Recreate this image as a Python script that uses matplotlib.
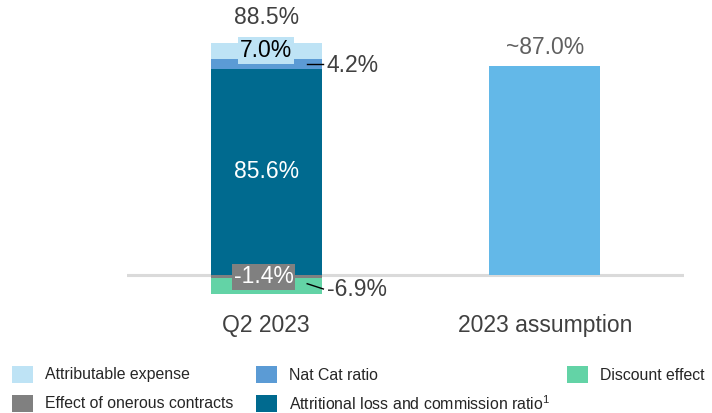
import matplotlib
matplotlib.use("Agg")
import matplotlib.pyplot as plt
from matplotlib.patches import Rectangle

plt.rcParams['font.family'] = ['Liberation Sans', 'DejaVu Sans']
plt.rcParams['mathtext.fontset'] = 'custom'
plt.rcParams['mathtext.rm'] = 'Liberation Sans'
plt.rcParams['mathtext.it'] = 'Liberation Sans'

# ---- data ----
categories = ["Q2 2023", "2023 assumption"]
attritional = 85.6
nat_cat = 4.2
attributable = 7.0
onerous = -1.4
discount = -6.9
total_q2 = 88.5
assumption = 87.0
assumption_label = "~87.0%"

legend_labels = ["Attributable expense", "Nat Cat ratio", "Discount effect",
                 "Effect of onerous contracts",
                 "Attritional loss and commission ratio$^{1}$"]

# ---- colours ----
c_attributable = "#BEE3F5"
c_natcat = "#5B9BD5"
c_attritional = "#006A8F"
c_discount = "#63D3A6"
c_onerous = "#808080"
c_assumption = "#63B8E8"
c_text = "#404040"

W, H = 712, 413
fig = plt.figure(figsize=(W / 100, H / 100), dpi=100)
ax = fig.add_axes([127 / W, (H - 310) / H, (684 - 127) / W, 310 / H])
ax.set_xlim(-0.5, 1.5)
ax.set_ylim(-(310 - 274.5) / 2.395, 274.5 / 2.395)

x0, x1 = 0, 1
bw = 0.40

ax.axhline(0, color="#DADADA", lw=2.2, zorder=0)

# Q2 2023 stacked bar
ax.bar(x0, attritional, bw, bottom=0, color=c_attritional, zorder=2)
ax.bar(x0, nat_cat, bw, bottom=attritional, color=c_natcat, zorder=2)
ax.bar(x0, attributable, bw, bottom=attritional + nat_cat, color=c_attributable, zorder=2)
ax.bar(x0, onerous, bw, bottom=0, color=c_onerous, zorder=2)
ax.bar(x0, discount, bw, bottom=onerous, color=c_discount, zorder=2)

# assumption bar
ax.bar(x1, assumption, bw, color=c_assumption, zorder=2)

fs = 16.5
top_stack = attritional + nat_cat + attributable
ax.text(x0, top_stack + 10.5, f"{total_q2:.1f}%", ha="center", va="center",
        fontsize=fs, color=c_text)
ax.text(x0, attritional + nat_cat + attributable / 2 + 0.3, f"{attributable:.1f}%",
        ha="center", va="center", fontsize=fs, color="black", zorder=4,
        bbox=dict(boxstyle="square,pad=0.08", fc=c_attributable, ec="none"))
ax.text(x0, attritional / 2, f"{attritional:.1f}%", ha="center", va="center",
        fontsize=fs, color="white", zorder=4)
ax.text(x0 - 0.01, onerous / 2 - 0.3, f"{onerous:.1f}%", ha="center", va="center",
        fontsize=fs, color="white", zorder=4,
        bbox=dict(boxstyle="square,pad=0.08", fc=c_onerous, ec="none"))

# Nat Cat callout
yn = attritional + nat_cat / 2
ax.plot([x0 + 0.147, x0 + 0.205], [yn + 0.4, yn + 0.4], color="black", lw=1.0, zorder=5)
ax.text(x0 + 0.218, yn - 0.4, f"{nat_cat:.1f}%", ha="left", va="center",
        fontsize=fs, color=c_text)

# Discount callout
yd = onerous + discount / 2
ax.plot([x0 + 0.147, x0 + 0.205], [yd + 1.0, yd - 1.2], color="black", lw=1.0, zorder=5)
ax.text(x0 + 0.218, yd - 1.6, f"{discount:.1f}%", ha="left", va="center",
        fontsize=fs, color=c_text)

ax.text(x1, assumption + 7.8, assumption_label, ha="center", va="center",
        fontsize=fs, color="#606060")

ax.set_xticks([x0, x1])
ax.set_xticklabels(categories, fontsize=fs, color=c_text)
ax.tick_params(axis="x", length=0, pad=3)
ax.set_yticks([])
for s in ax.spines.values():
    s.set_visible(False)

# ---- legend (manual) ----
legend_colors = [c_attributable, c_natcat, c_discount, c_onerous, c_attritional]
patch_x = [12, 256, 567, 12, 256]
row_y = [366, 366, 366, 395, 395]
for lab, col, px, py in zip(legend_labels, legend_colors, patch_x, row_y):
    fig.patches.append(Rectangle((px / W, (H - py - 17) / H), 21 / W, 17 / H,
                                 transform=fig.transFigure, fc=col, ec="none"))
    fig.text((px + 33) / W, (H - py - 9) / H, lab, ha="left", va="center",
             fontsize=11.4, color="#262626")

fig.savefig("out.png", dpi=100)
